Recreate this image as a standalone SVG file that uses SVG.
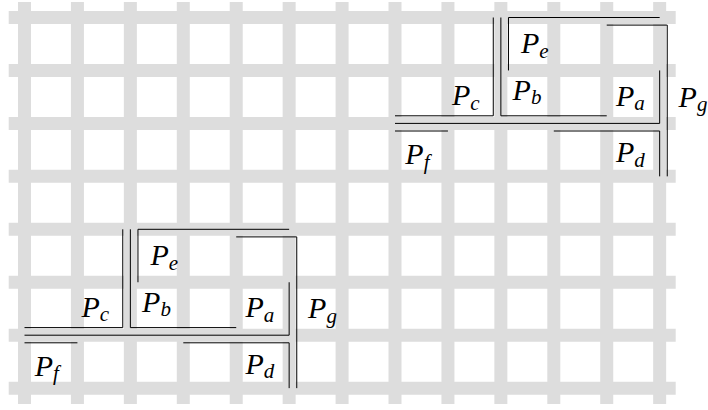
<svg xmlns="http://www.w3.org/2000/svg" width="708" height="410" viewBox="0 0 708 410">
  <style>
    .grid { fill: none; stroke: #dddddd; stroke-width: 13; }
    .edge { fill: none; stroke: #000000; stroke-width: 1; }
    .lbl { font-family: "Liberation Serif", "DejaVu Serif", serif; font-style: italic; font-size: 30px; fill: #000000; }
    .sub { font-size: 21px; }
  </style>

  <!-- background grid: 13 columns x 8 rows, pitch ~52.9 -->
  <g id="grid">
    <path class="grid" d="M24.5 2V404 M77.43 2V404 M130.36 2V404 M183.29 2V404 M236.22 2V404 M289.15 2V404 M342.08 2V404 M395.01 2V404 M447.94 2V404 M500.87 2V404 M553.8 2V404 M606.73 2V404 M659.66 2V404"/>
    <path class="grid" d="M8.7 17.5H675.7 M8.7 70.45H675.7 M8.7 123.4H675.7 M8.7 176.35H675.7 M8.7 229.3H675.7 M8.7 282.25H675.7 M8.7 335.2H675.7 M8.7 388.15H675.7"/>
  </g>

  <!-- region layout, upper right copy -->
  <g id="layout-upper">
    <g id="upper-Pc">
      <path class="edge" d="M493.27 17.5V115.8H395.01"/>
      <text class="lbl" x="452" y="105">P<tspan class="sub" dy="4.5">c</tspan></text>
    </g>
    <g id="upper-Pb">
      <path class="edge" d="M500.87 17.5V115.8H606.73"/>
      <text class="lbl" x="512.6" y="99.8">P<tspan class="sub" dy="4.5">b</tspan></text>
    </g>
    <g id="upper-Pe">
      <path class="edge" d="M508.47 70.45V17.5H659.66"/>
      <text class="lbl" x="521" y="53.3">P<tspan class="sub" dy="4.5">e</tspan></text>
    </g>
    <g id="upper-Pg">
      <path class="edge" d="M606.73 25.1H667.26V176.35"/>
      <text class="lbl" x="678.6" y="106.5">P<tspan class="sub" dy="4.5">g</tspan></text>
    </g>
    <g id="upper-Pa">
      <path class="edge" d="M659.66 70.45V123.4H395.01"/>
      <text class="lbl" x="616" y="105.5">P<tspan class="sub" dy="4.5">a</tspan></text>
    </g>
    <g id="upper-Pf">
      <path class="edge" d="M395.01 131H447.94"/>
      <text class="lbl" x="405.3" y="164">P<tspan class="sub" dy="4.5">f</tspan></text>
    </g>
    <g id="upper-Pd">
      <path class="edge" d="M553.8 131H659.66V176.35"/>
      <text class="lbl" x="616" y="162">P<tspan class="sub" dy="4.5">d</tspan></text>
    </g>
  </g>

  <!-- same layout, shifted 7 columns left and 4 rows down -->
  <g id="layout-lower" transform="translate(-370.51 211.8)">
    <g id="lower-Pc">
      <path class="edge" d="M493.27 17.5V115.8H395.01"/>
      <text class="lbl" x="452" y="105">P<tspan class="sub" dy="4.5">c</tspan></text>
    </g>
    <g id="lower-Pb">
      <path class="edge" d="M500.87 17.5V115.8H606.73"/>
      <text class="lbl" x="512.6" y="99.8">P<tspan class="sub" dy="4.5">b</tspan></text>
    </g>
    <g id="lower-Pe">
      <path class="edge" d="M508.47 70.45V17.5H659.66"/>
      <text class="lbl" x="521" y="53.3">P<tspan class="sub" dy="4.5">e</tspan></text>
    </g>
    <g id="lower-Pg">
      <path class="edge" d="M606.73 25.1H667.26V176.35"/>
      <text class="lbl" x="678.6" y="106.5">P<tspan class="sub" dy="4.5">g</tspan></text>
    </g>
    <g id="lower-Pa">
      <path class="edge" d="M659.66 70.45V123.4H395.01"/>
      <text class="lbl" x="616" y="105.5">P<tspan class="sub" dy="4.5">a</tspan></text>
    </g>
    <g id="lower-Pf">
      <path class="edge" d="M395.01 131H447.94"/>
      <text class="lbl" x="405.3" y="164">P<tspan class="sub" dy="4.5">f</tspan></text>
    </g>
    <g id="lower-Pd">
      <path class="edge" d="M553.8 131H659.66V176.35"/>
      <text class="lbl" x="616" y="162">P<tspan class="sub" dy="4.5">d</tspan></text>
    </g>
  </g>
</svg>
